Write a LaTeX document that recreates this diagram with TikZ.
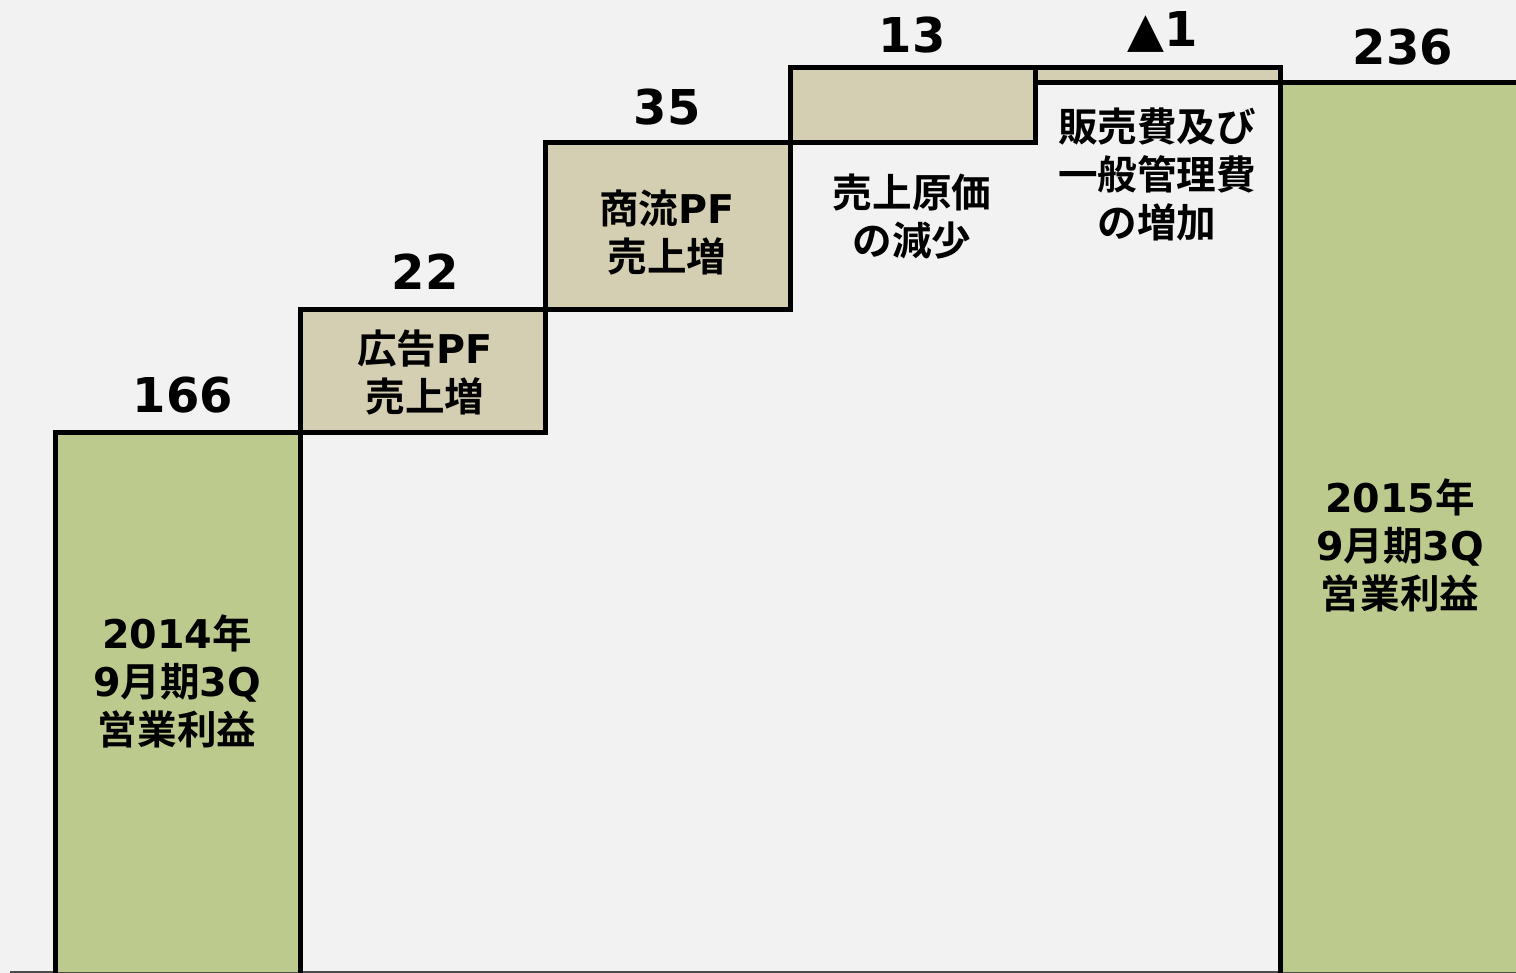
\documentclass[tikz,border=0pt]{standalone}
\usepackage{fontspec}
\setmainfont{DejaVu Sans}
\newfontfamily\jp{Noto Sans CJK JP}[BoldFont={Noto Sans CJK JP Bold}]
\definecolor{bgGray}{HTML}{F2F2F2}
\definecolor{barGreen}{HTML}{BDCA8D}
\definecolor{stepTan}{HTML}{D4CFB2}
\tikzset{
  valnum/.style={inner sep=0.75pt, font=\bfseries\fontsize{24}{28}\selectfont},
  boxtxt/.style={inner sep=0.75pt, align=center, font=\bfseries\fontsize{19.8}{24}\selectfont},
  edge/.style={line width=2.5pt, line join=miter}
}
\begin{document}
\begin{tikzpicture}[x=0.5pt,y=0.5pt,yscale=-1,xscale=1]
%set diagram size to the reference
\useasboundingbox (0,0) rectangle (1516,973);
\fill [bgGray] (0,0) rectangle (1516,973);

%Shape: Base line
\draw [gray!60!black, line width=0.6pt] (10,972) -- (1516,972);

%Shape: Bar 2014
\fill [barGreen] (55,432) rectangle (300,972);
\draw [edge] (55,973) -- (55,432) -- (300,432) -- (300,973);
%Shape: Bar 2015
\fill [barGreen] (1280,83) rectangle (1520,972);
\draw [edge] (1280,973) -- (1280,83) -- (1520,83);

%Shape: Step boxes
\draw [edge, fill=stepTan] (300,310) rectangle (545,432);
\draw [edge, fill=stepTan] (545,143) rectangle (790,310);
\draw [edge, fill=stepTan] (790,68) rectangle (1035,143);
\draw [edge, fill=stepTan] (1035,68) rectangle (1280,83);

% Text Node
\node [valnum] (v166) at (183,395) {166};
\node [valnum] (v22) at (425,272) {22};
\node [valnum] (v35) at (667,107) {35};
\node [valnum] (v13) at (912,35) {13};
\node [valnum] (vneg1) at (1163,32) {▲1};
\node [valnum] (v236) at (1403,47) {236};

% Text Node
\node [boxtxt] (ad) at (425,373) {{\jp 広告}PF\\{\jp 売上増}};
\node [boxtxt] (com) at (667,233) {{\jp 商流}PF\\{\jp 売上増}};
\node [boxtxt] (cost) at (912,217) {{\jp 売上原価}\\{\jp の減少}};
\node [boxtxt] (sga) at (1157,174) {{\jp 販売費及び}\\{\jp 一般管理費}\\{\jp の増加}};
\node [boxtxt] (fy14) at (177,681) {2014{\jp 年}\\9{\jp 月期}3Q\\{\jp 営業利益}};
\node [boxtxt] (fy15) at (1400,545) {2015{\jp 年}\\9{\jp 月期}3Q\\{\jp 営業利益}};

\end{tikzpicture}
\end{document}
